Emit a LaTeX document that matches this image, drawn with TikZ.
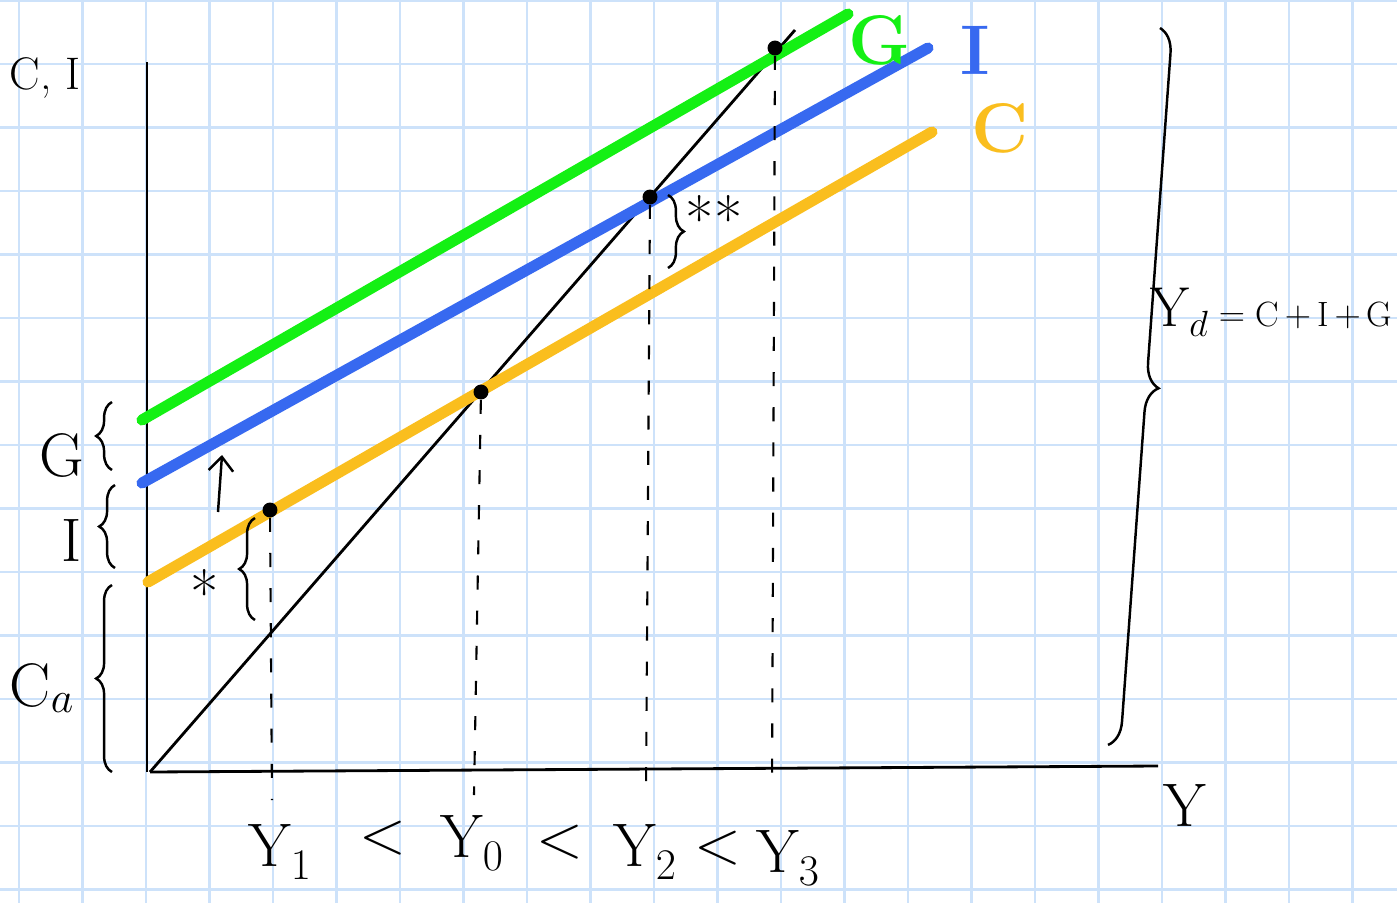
\documentclass[tikz,border=0pt]{standalone}
\usepackage{fontspec}
\usetikzlibrary{positioning, arrows.meta, decorations.pathreplacing}
\definecolor{gridblue}{RGB}{205, 226, 250}
\definecolor{govgreen}{RGB}{20, 240, 20}
\definecolor{invblue}{RGB}{55, 105, 240}
\definecolor{conorange}{RGB}{250, 190, 30}

\begin{document}
\begin{tikzpicture}[
                x=0.02cm, y=-0.02cm,
                marker/.style={line width=6.3pt, line cap=round},
                axisline/.style={line width=1.6pt},
                guide/.style={line width=1.2pt, dash pattern=on 8pt off 12pt},
                eqdot/.style={circle, fill=black, inner sep=0pt, minimum size=8.5pt},
                lbl/.style={inner sep=0pt, font=\fontsize{35}{40}\selectfont},
                small/.style={inner sep=0pt, font=\fontsize{26}{30}\selectfont},
                tag/.style={inner sep=0pt, font=\fontsize{40}{44}\selectfont\bfseries},
                hbrace/.style={decorate, decoration={brace, amplitude=9pt}, line width=1.4pt}
            ]

            \useasboundingbox (0,0) rectangle (1397,903);
            \fill[white] (0,0) rectangle (1397,903);

            % squared paper
            \foreach \gx in {0,...,21}
                \draw[gridblue, line width=1.2pt] (19+63.5*\gx,0) -- (19+63.5*\gx,903);
            \foreach \gy in {0,...,14}
                \draw[gridblue, line width=1.2pt] (0,0.5+63.5*\gy) -- (1397,0.5+63.5*\gy);

            % axes and 45 degree line
            \coordinate (origin) at (150,772);
            \coordinate (ytop) at (147,62);
            \coordinate (ybot) at (147,772);
            \coordinate (xend) at (1158,766);
            \coordinate (diagend) at (795,30);
            \draw[axisline] (ybot) -- (ytop);
            \draw[axisline] (origin) -- (xend);
            \draw[axisline] (origin) -- (diagend);

            % expenditure lines
            \coordinate (c0) at (148,582);  \coordinate (c1) at (932,132);
            \coordinate (i0) at (142,483);  \coordinate (i1) at (928,48);
            \coordinate (g0) at (142,420);  \coordinate (g1) at (848,14);
            \draw[marker, conorange] (c0) -- (c1);
            \draw[marker, invblue] (i0) -- (i1);
            \draw[marker, govgreen] (g0) -- (g1);

            \node[tag, text=govgreen] (gtag) at (880,40) {G};
            \node[tag, text=invblue] (itag) at (975,50) {I};
            \node[tag, text=conorange] (ctag) at (1000,128) {C};

            % equilibrium points
            \node[eqdot] (p1) at (270,510) {};
            \node[eqdot] (p0) at (481,392) {};
            \node[eqdot] (p2) at (650,197) {};
            \node[eqdot] (p3) at (775,48) {};

            \coordinate (t1) at (272,800);
            \coordinate (t0) at (474,795);
            \coordinate (t2) at (646,792);
            \coordinate (t3) at (772,792);
            \draw[guide] (p1) -- (t1);
            \draw[guide] (p0) -- (t0);
            \draw[guide] (p2) -- (t2);
            \draw[guide] (p3) -- (t3);

            % income levels
            \node[lbl] (y1) at (280,852) {Y$_1$};
            \node[lbl] (lt1) at (383,838) {<};
            \node[lbl] (y0) at (472,843) {Y$_0$};
            \node[lbl] (lt2) at (560,842) {<};
            \node[lbl] (y2) at (645,852) {Y$_2$};
            \node[lbl] (lt3) at (718,848) {<};
            \node[lbl] (y3) at (788,858) {Y$_3$};
            \node[lbl] (ylab) at (1185,805) {Y};
            \node[small] (clab) at (45,78) {C, I};

            % left braces
            \draw[hbrace] (112,470) -- (112,402);
            \draw[hbrace] (115,568) -- (115,485);
            \draw[hbrace] (112,772) -- (112,585);
            \node[lbl] (glab) at (62,455) {G};
            \node[lbl] (ilab) at (72,540) {I};
            \node[lbl] (calab) at (42,688) {C$_a$};

            % gaps
            \draw[hbrace] (255,620) -- (255,518);
            \node[lbl] (onestar) at (205,592) {*};
            \draw[hbrace] (668,195) -- (668,268);
            \node[lbl] (twostar) at (714,218) {**};

            \coordinate (arrlo) at (218,512);
            \coordinate (arrhi) at (222,455);
            \draw[-{Straight Barb[length=8pt, width=14pt]}, line width=1.4pt] (arrlo) -- (arrhi);

            % aggregate demand
            \draw[decorate, decoration={brace, amplitude=14pt}, line width=1.4pt] (1160,28) -- (1108,745);
            \node[inner sep=0pt, anchor=west] (yd) at (1150,312)
                {\fontsize{32}{36}\selectfont Y$_d$\fontsize{20}{24}\selectfont${}={}$C$\,+\,$I$\,+\,$G};

            \end{tikzpicture}
\end{document}
